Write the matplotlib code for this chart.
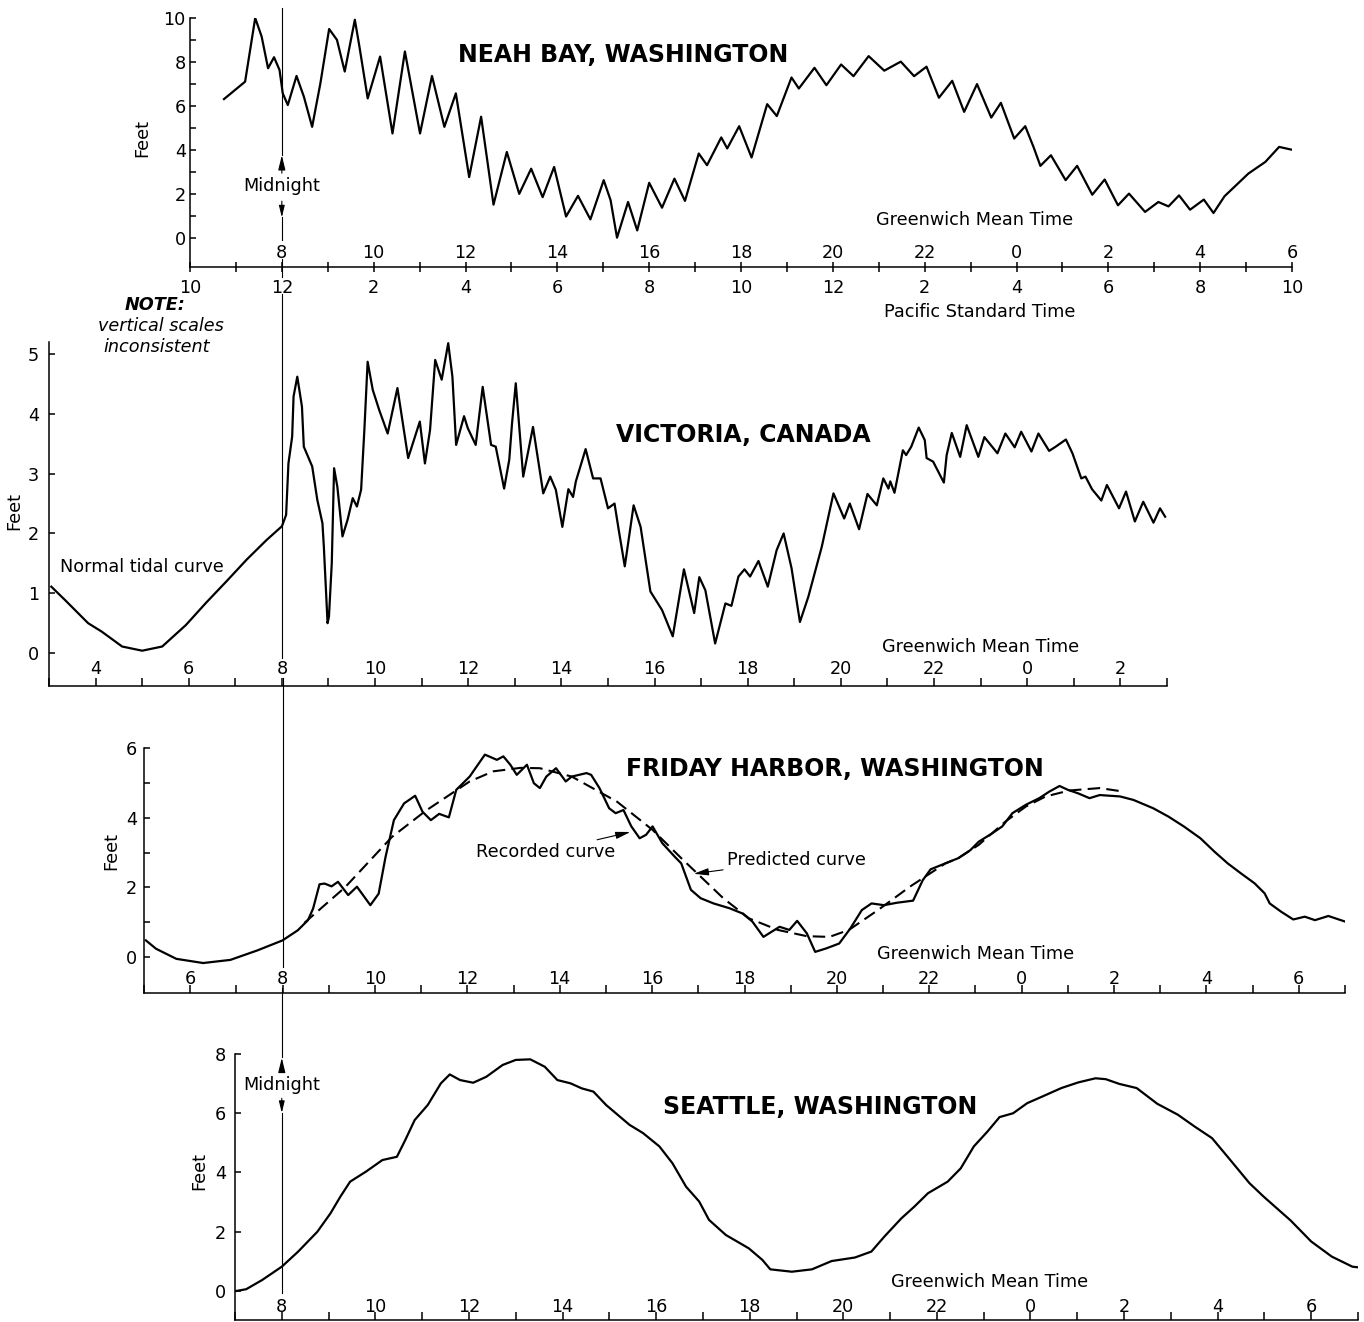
import matplotlib
matplotlib.use('Agg')
import matplotlib.pyplot as plt

W, H = 1364, 1322

# ---- tide records, hours GMT (24 = 0 next day) vs feet ----
neah_t = [6.74, 7.20, 7.42, 7.56, 7.70, 7.83, 7.95, 8.02, 8.13, 8.32, 8.48, 8.66, 8.84, 9.03, 9.20,
          9.37, 9.59, 9.69, 9.87, 10.14, 10.41, 10.68, 11.01, 11.27, 11.54, 11.79, 12.08, 12.34,
          12.61, 12.90, 13.17, 13.43, 13.68, 13.93, 14.19, 14.45, 14.72, 15.01, 15.16, 15.30, 15.54,
          15.74, 16.0, 16.28, 16.55, 16.78, 17.08, 17.26, 17.57, 17.70, 17.96, 18.23, 18.57, 18.78,
          19.10, 19.26, 19.60, 19.86, 20.18, 20.45, 20.78, 21.12, 21.48, 21.77, 22.04, 22.31, 22.60,
          22.86, 23.14, 23.45, 23.66, 23.95, 24.19, 24.37, 24.52, 24.75, 25.07, 25.32, 25.65, 25.92,
          26.21, 26.45, 26.80, 27.09, 27.31, 27.54, 27.78, 28.08, 28.29, 28.53, 29.05, 29.42, 29.72,
          29.98]
neah_ft = [6.32, 7.11, 10.0, 9.16, 7.72, 8.22, 7.64, 6.58, 6.05, 7.37, 6.43, 5.06, 7.04, 9.5, 9.01,
           7.57, 9.92, 8.7, 6.35, 8.25, 4.76, 8.48, 4.76, 7.37, 5.06, 6.58, 2.78, 5.52,
           1.53, 3.92, 2.02, 3.16, 1.87, 3.24, 0.99, 1.93, 0.86, 2.64, 1.73, 0.03, 1.65,
           0.36, 2.52, 1.39, 2.71, 1.7, 3.85, 3.32, 4.58, 4.08, 5.09, 3.67, 6.09, 5.55,
           7.3, 6.8, 7.74, 6.95, 7.89, 7.36, 8.27, 7.61, 8.02, 7.36, 7.79, 6.38, 7.15,
           5.74, 7.0, 5.48, 6.15, 4.53, 5.09, 4.15, 3.29, 3.77, 2.64, 3.29, 1.98, 2.67,
           1.5, 2.03, 1.2, 1.65, 1.45, 1.95, 1.3, 1.76, 1.15, 1.91, 2.94, 3.47, 4.15,
           4.03]

vic_t = [3.05, 3.34, 3.84, 4.13, 4.57, 5.0, 5.43, 5.94, 6.37, 6.81, 7.24, 7.67, 8.0, 8.09, 8.14,
         8.22, 8.25, 8.33, 8.43, 8.47, 8.65, 8.76, 8.87, 8.90, 8.98, 9.01, 9.07, 9.12, 9.19, 9.30,
         9.41, 9.52, 9.61, 9.70, 9.77, 9.84, 9.95, 10.09, 10.27, 10.48, 10.71, 10.96, 11.07, 11.18,
         11.29, 11.43, 11.57, 11.66, 11.74, 11.91, 11.99, 12.16, 12.31, 12.49, 12.59, 12.77, 12.88,
         12.94, 13.02, 13.18, 13.39, 13.61, 13.76, 13.88, 14.02, 14.15, 14.25, 14.31, 14.52, 14.68,
         14.84, 15.0, 15.14, 15.23, 15.36, 15.55, 15.70, 15.91, 16.16, 16.39, 16.63, 16.85, 16.96,
         17.09, 17.30, 17.52, 17.65, 17.80, 17.93, 18.05, 18.23, 18.43, 18.62, 18.77, 18.94, 19.12,
         19.30, 19.59, 19.84, 20.07, 20.19, 20.39, 20.57, 20.77, 20.91, 21.02, 21.06, 21.15, 21.33,
         21.40, 21.51, 21.67, 21.80, 21.84, 21.98, 22.21, 22.27, 22.38, 22.56, 22.70, 22.95, 23.08,
         23.36, 23.53, 23.73, 23.87, 24.09, 24.24, 24.47, 24.61, 24.83, 24.97, 25.16, 25.25, 25.39,
         25.59, 25.71, 25.97, 26.12, 26.31, 26.49, 26.71, 26.85, 26.96]
vic_ft = [1.11, 0.89, 0.50, 0.36, 0.11, 0.04, 0.11, 0.47, 0.84, 1.2, 1.56, 1.89, 2.12, 2.31, 3.17,
          3.62, 4.29, 4.62, 4.12, 3.45, 3.12, 2.56, 2.17, 1.78, 0.5, 0.61, 1.5, 3.09, 2.78, 1.95,
          2.23, 2.59, 2.45, 2.73, 3.73, 4.87, 4.4, 4.06, 3.67, 4.43, 3.26, 3.87, 3.17, 3.73,
          4.9, 4.57, 5.18, 4.62, 3.48, 3.96, 3.76, 3.48, 4.45, 3.48, 3.45, 2.75, 3.23,
          3.84, 4.51, 2.95, 3.78, 2.67, 2.95, 2.73, 2.11, 2.74, 2.61, 2.87, 3.41, 2.92,
          2.92, 2.42, 2.5, 2.06, 1.45, 2.47, 2.11, 1.03, 0.72, 0.28, 1.4, 0.67, 1.27,
          1.05, 0.16, 0.83, 0.79, 1.28, 1.4, 1.28, 1.54, 1.11, 1.72, 2.0, 1.42, 0.52,
          0.94, 1.78, 2.67, 2.25, 2.5, 2.07, 2.66, 2.47, 2.92, 2.75, 2.87, 2.68, 3.39,
          3.31, 3.45, 3.77, 3.56, 3.26, 3.2, 2.85, 3.31, 3.68, 3.28, 3.81, 3.28, 3.61,
          3.34, 3.67, 3.44, 3.7, 3.37, 3.67, 3.38, 3.45, 3.57, 3.34, 2.92, 2.95, 2.74,
          2.55, 2.81, 2.42, 2.7, 2.2, 2.53, 2.18, 2.42, 2.28]

fri_t = [5.04, 5.26, 5.70, 6.28, 6.87, 7.45, 8.0, 8.33, 8.55, 8.66, 8.80, 8.91, 9.06, 9.20, 9.42,
         9.61, 9.90, 10.08, 10.23, 10.41, 10.63, 10.87, 11.03, 11.21, 11.39, 11.60, 11.76, 12.05,
         12.38, 12.64, 12.78, 12.93, 13.07, 13.29, 13.44, 13.57, 13.71, 13.92, 14.13, 14.26, 14.58,
         14.68, 14.86, 15.07, 15.21, 15.38, 15.55, 15.73, 15.87, 16.01, 16.22, 16.49, 16.63, 16.84,
         17.05, 17.33, 17.68, 17.96, 18.17, 18.41, 18.59, 18.76, 18.97, 19.14, 19.35, 19.53, 19.77,
         20.05, 20.29, 20.54, 20.75, 21.02, 21.30, 21.65, 21.86, 22.03, 22.35, 22.63, 22.89, 23.07,
         23.36, 23.58, 23.80, 24.09, 24.38, 24.60, 24.82, 25.0, 25.22, 25.47, 25.69, 26.13, 26.42,
         26.85, 27.18, 27.51, 27.87, 28.17, 28.46, 28.75, 29.04, 29.26, 29.37, 29.62, 29.88, 30.13,
         30.35, 30.64, 31.0]
fri_ft = [0.48, 0.24, -0.05, -0.17, -0.08, 0.19, 0.48, 0.77, 1.06, 1.39, 2.09, 2.11, 2.03, 2.16, 1.78,
          2.02, 1.49, 1.82, 2.88, 3.93, 4.41, 4.63, 4.17, 3.93, 4.11, 4.01, 4.80, 5.18,
          5.81, 5.66, 5.76, 5.52, 5.23, 5.52, 4.99, 4.85, 5.18, 5.42, 5.04, 5.18, 5.28,
          5.23, 4.85, 4.27, 4.13, 4.22, 3.75, 3.41, 3.51, 3.75, 3.27, 2.88, 2.69, 1.93,
          1.69, 1.54, 1.40, 1.25, 1.02, 0.58, 0.73, 0.87, 0.78, 1.04, 0.68, 0.15, 0.25,
          0.39, 0.82, 1.35, 1.54, 1.49, 1.56, 1.62, 2.21, 2.52, 2.69, 2.84, 3.07, 3.31,
          3.55, 3.75, 4.13, 4.37, 4.56, 4.75, 4.91, 4.80, 4.70, 4.56, 4.65, 4.61, 4.51,
          4.27, 4.03, 3.75, 3.41, 3.03, 2.69, 2.40, 2.12, 1.83, 1.54, 1.30, 1.08, 1.16,
          1.06, 1.18, 1.02]

fri_pred_t = [8.47, 9.35, 10.37, 11.1, 12.05, 12.56, 13.15, 13.57, 14.26, 15.24, 16.01, 16.63, 17.05,
              17.54, 18.10, 18.72, 19.35, 19.84, 20.26, 20.89, 21.58, 22.35, 22.63, 23.07, 23.65,
              24.09, 24.52, 25.03, 25.69, 26.2]
fri_pred_ft = [0.98, 2.0, 3.45, 4.2, 5.04, 5.33, 5.43, 5.42, 5.18, 4.46, 3.65, 2.84, 2.31,
               1.69, 1.11, 0.78, 0.60, 0.58, 0.78, 1.35, 2.02, 2.69, 2.84, 3.22, 3.89,
               4.32, 4.61, 4.78, 4.85, 4.75]

sea_t = [7.03, 7.24, 7.58, 8.0, 8.35, 8.76, 9.04, 9.25, 9.46, 9.80, 10.15, 10.46, 10.64, 10.84,
         11.12, 11.40, 11.59, 11.81, 12.09, 12.37, 12.72, 13.0, 13.31, 13.62, 13.89, 14.17, 14.41,
         14.66, 14.93, 15.43, 15.72, 16.07, 16.35, 16.64, 16.92, 17.13, 17.49, 17.98, 18.27, 18.44,
         18.90, 19.33, 19.75, 20.25, 20.60, 20.88, 21.24, 21.52, 21.81, 22.23, 22.51, 22.79, 23.08,
         23.34, 23.63, 23.93, 24.29, 24.66, 25.02, 25.39, 25.61, 25.90, 26.27, 26.71, 27.15, 27.51,
         27.88, 28.24, 28.68, 28.98, 29.56, 30.0, 30.44, 30.88, 30.99]
sea_ft = [0.0, 0.06, 0.37, 0.82, 1.33, 2.0, 2.62, 3.18, 3.69, 4.03, 4.42, 4.53, 5.10, 5.77,
          6.28, 7.01, 7.31, 7.12, 7.03, 7.23, 7.63, 7.80, 7.82, 7.57, 7.12, 7.01, 6.84,
          6.73, 6.28, 5.61, 5.33, 4.88, 4.31, 3.52, 3.02, 2.40, 1.89, 1.44, 1.05, 0.73,
          0.65, 0.73, 1.01, 1.13, 1.33, 1.84, 2.45, 2.85, 3.30, 3.69, 4.14, 4.88, 5.38,
          5.87, 6.0, 6.34, 6.59, 6.85, 7.04, 7.18, 7.15, 6.99, 6.85, 6.32, 5.95, 5.55,
          5.16, 4.48, 3.64, 3.19, 2.38, 1.67, 1.16, 0.82, 0.80]

# tick labels
neah_gmt = ['', '8', '10', '12', '14', '16', '18', '20', '22', '0', '2', '4', '6']
neah_pst = ['10', '12', '2', '4', '6', '8', '10', '12', '2', '4', '6', '8', '10']
vic_gmt = ['4', '6', '8', '10', '12', '14', '16', '18', '20', '22', '0', '2']
fri_gmt = ['6', '8', '10', '12', '14', '16', '18', '20', '22', '0', '2', '4', '6']
sea_gmt = ['8', '10', '12', '14', '16', '18', '20', '22', '0', '2', '4', '6']

FS = 12.7
LW = 1.6
PX = 100 / 72.0

fig = plt.figure(figsize=(W / 100, H / 100), dpi=100)


def make_axes(left, right, top, bottom, xlim, ylim):
    ax = fig.add_axes([left / W, 1 - bottom / H, (right - left) / W, (bottom - top) / H])
    ax.patch.set_alpha(0)
    ax.spines[['top', 'right']].set_visible(False)
    ax.spines[['left', 'bottom']].set_linewidth(1.1)
    ax.set_xlim(*xlim)
    ax.set_ylim(*ylim)
    return ax


def gmt_axis(ax, ticks, labels, minor, dist, direction='in', length=5.5):
    ax.set_xticks(ticks, labels)
    ax.set_xticks(minor, minor=True)
    out = {'in': 0, 'inout': length / 2}[direction]
    pad = -(dist + 6.5) / PX - out
    ax.tick_params(axis='x', which='both', direction=direction, length=length, width=1.1,
                   labelsize=FS, pad=pad)


def y_axis(ax, ticks, minor, pad, lab_x, lab_y):
    ax.set_yticks(ticks)
    ax.set_yticks(minor, minor=True)
    ax.tick_params(axis='y', which='both', direction='in', length=4, width=1.1,
                   labelsize=FS, pad=pad)
    ax.set_ylabel('Feet', fontsize=FS)
    ax.yaxis.set_label_coords(lab_x, lab_y)


def curve(ax, t, ft, **kw):
    kw.setdefault('lw', LW)
    ax.plot(t, ft, color='k', solid_joinstyle='round', dash_joinstyle='round', **kw)


def vline(ax, y0, y1):
    ax.plot([8, 8], [y0, y1], color='k', lw=0.8, clip_on=False)


def ftext(px, py, s, **kw):
    kw.setdefault('fontsize', FS)
    fig.text(px / W, 1 - py / H, s, ha='center', va='center', **kw)


arrow = dict(arrowstyle='-|>,head_length=0.7,head_width=0.17', color='k', lw=0.8,
             shrinkA=1, shrinkB=0)

# ---- Neah Bay ----
ax1 = make_axes(190, 1292, 18, 267, (6, 30), (-1.3, 10))
curve(ax1, neah_t, neah_ft)
gmt_axis(ax1, range(6, 31, 2), neah_gmt, range(7, 30, 2), 17, 'inout', 7)
pst = ax1.secondary_xaxis(0)
pst.set_xticks(range(6, 31, 2), neah_pst)
pst.tick_params(length=0, pad=8.3, labelsize=FS)
pst.spines['bottom'].set_visible(False)
y_axis(ax1, range(0, 11, 2), range(1, 10, 2), 3, -0.035, 0.52)
vline(ax1, 10.45, 3.8)
ax1.annotate('Midnight', xy=(8, 3.77), xytext=(8, 2.36), ha='center', va='center',
             fontsize=FS, arrowprops=arrow)
ax1.annotate('', xy=(8, 0.95), xytext=(8, 1.75), arrowprops=arrow)
vline(ax1, 0.95, -0.08)
vline(ax1, -0.92, -1.75)
ftext(623, 55, 'NEAH BAY, WASHINGTON', fontsize=17, fontweight='bold')
ftext(975, 220, 'Greenwich Mean Time')
ftext(980, 312, 'Pacific Standard Time')

# ---- Victoria ----
ax2 = make_axes(49, 1167, 342, 686, (3, 27), (-0.55, 5.2))
curve(ax2, vic_t, vic_ft)
gmt_axis(ax2, range(4, 27, 2), vic_gmt, range(3, 28, 2), 19)
y_axis(ax2, range(0, 6), [], 7, -0.023, 0.51)
vline(ax2, 6.0, -0.08)
ftext(743, 435, 'VICTORIA, CANADA', fontsize=17, fontweight='bold')
ftext(981, 647, 'Greenwich Mean Time')
ftext(142, 567, 'Normal tidal curve')
ftext(155, 305, 'NOTE:', fontweight='bold', fontstyle='italic')
ftext(161, 326, 'vertical scales', fontstyle='italic')
ftext(157, 347, 'inconsistent', fontstyle='italic')

# ---- Friday Harbor ----
ax3 = make_axes(144, 1345, 748, 993, (5, 31), (-1.03, 6))
curve(ax3, fri_t, fri_ft)
curve(ax3, fri_pred_t, fri_pred_ft, lw=1.5, ls=(0, (6, 3)))
gmt_axis(ax3, range(6, 31, 2), fri_gmt, range(5, 32, 2), 16)
y_axis(ax3, range(0, 7, 2), range(1, 6, 2), 5, -0.020, 0.58)
vline(ax3, 8.02, -0.29)
ax3.annotate('Recorded curve', xy=(15.53, 3.59), xytext=(13.69, 3.02), ha='center',
             va='center', fontsize=FS, arrowprops=arrow)
ax3.annotate('Predicted curve', xy=(16.9, 2.39), xytext=(19.13, 2.79), ha='center',
             va='center', fontsize=FS, arrowprops=arrow)
ftext(835, 769, 'FRIDAY HARBOR, WASHINGTON', fontsize=17, fontweight='bold')
ftext(976, 954, 'Greenwich Mean Time')

# ---- Seattle ----
ax4 = make_axes(235, 1358, 1054, 1320, (7, 31), (-0.98, 8))
curve(ax4, sea_t, sea_ft)
gmt_axis(ax4, range(8, 31, 2), sea_gmt, range(7, 32, 2), 15)
y_axis(ax4, range(0, 9, 2), [], 6.5, -0.024, 0.56)
vline(ax4, 10.24, 7.9)
ax4.annotate('Midnight', xy=(8, 7.87), xytext=(8, 6.96), ha='center', va='center',
             fontsize=FS, arrowprops=arrow)
ax4.annotate('', xy=(8, 6.01), xytext=(8, 6.55), arrowprops=arrow)
vline(ax4, 6.01, -0.07)
ftext(820, 1107, 'SEATTLE, WASHINGTON', fontsize=17, fontweight='bold')
ftext(990, 1282, 'Greenwich Mean Time')

fig.savefig('out.png', dpi=100)
